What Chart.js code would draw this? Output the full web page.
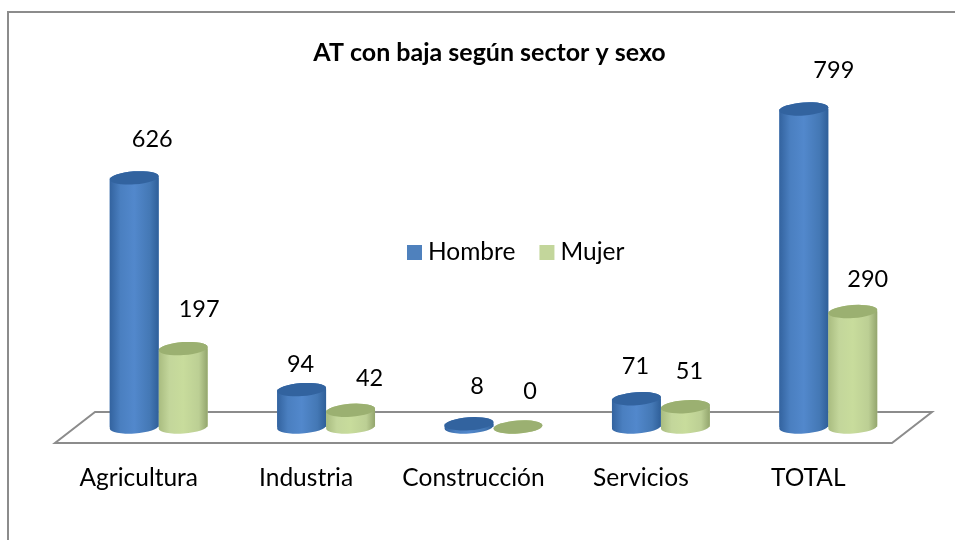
<!DOCTYPE html>
<html>
<head>
<meta charset="utf-8">
<title>AT con baja según sector y sexo</title>
<script src="https://cdn.jsdelivr.net/npm/chart.js@4"></script>
<style>
    html, body { margin: 0; padding: 0; background: #fff; }
    #wrap { position: relative; width: 955px; height: 540px; overflow: hidden; }
    #frame { position: absolute; left: 7px; top: 11px; right: 0; bottom: 0; border-left: 2px solid #8c8c8c; border-top: 2px solid #8c8c8c; }
    canvas { position: absolute; left: 0; top: 0; }
</style>
</head>
<body>
<div id="wrap">
    <div id="frame"></div>
    <canvas id="chart" width="955" height="540"></canvas>
</div>
<script>
const categories = ['Agricultura', 'Industria', 'Construcción', 'Servicios', 'TOTAL'];
const hombre = [626, 94, 8, 71, 799];
const mujer = [197, 42, 0, 51, 290];

const FONT = 'Lato, Carlito, sans-serif';

// The value labels sit off to the side of the bars, not centred on them
const labelShift = [
    { x: [18, -1, 8, -1, 30], y: [-38, -25, -37, -32, -39] },
    { x: [16, 19, 12, 4, 15], y: [-39, -32, -36, -35, -32] }
];

const cylinderColors = [
    { stops: ['#33639f', '#4a7fc0', '#5288cc', '#4478b5', '#2f5f99'], top: '#32639f' },
    { stops: ['#a9bc80', '#c3d69b', '#c8dc9c', '#bccf94', '#93a56d'], top: '#9bb071' }
];

// Title is centred a little left of the plot
const titleShiftPlugin = {
    id: 'titleShift',
    afterLayout(chart) {
        chart.titleBlock.left -= 8;
    }
};

const floorPlugin = {
    id: 'floor',
    beforeDatasetsDraw(chart) {
        const { ctx, chartArea: a } = chart;
        ctx.save();
        ctx.strokeStyle = '#8c8c8c';
        ctx.lineWidth = 2;
        ctx.lineJoin = 'miter';
        ctx.beginPath();
        ctx.moveTo(a.left - 20, a.bottom + 16);
        ctx.lineTo(a.right - 20, a.bottom + 16);
        ctx.lineTo(a.right + 20, a.bottom - 15);
        ctx.lineTo(a.left + 20, a.bottom - 15);
        ctx.closePath();
        ctx.stroke();
        ctx.restore();
    }
};

const cylinderPlugin = {
    id: 'cylinder',
    afterDatasetsDraw(chart) {
        const { ctx } = chart;
        const tilt = -4 * Math.PI / 180;
        chart.data.datasets.forEach((ds, d) => {
            const c = cylinderColors[d];
            chart.getDatasetMeta(d).data.forEach((bar) => {
                const rx = bar.width / 2;
                const ry = 6.5;
                const left = bar.x - rx;
                ctx.save();
                const grad = ctx.createLinearGradient(left, 0, left + bar.width, 0);
                grad.addColorStop(0, c.stops[0]);
                grad.addColorStop(0.22, c.stops[1]);
                grad.addColorStop(0.5, c.stops[2]);
                grad.addColorStop(0.82, c.stops[3]);
                grad.addColorStop(1, c.stops[4]);
                ctx.fillStyle = grad;
                ctx.beginPath();
                ctx.ellipse(bar.x, bar.base, rx, ry, tilt, 0, Math.PI);
                ctx.ellipse(bar.x, bar.y, rx, ry, tilt, Math.PI, 2 * Math.PI);
                ctx.closePath();
                ctx.fill();
                ctx.fillStyle = c.top;
                ctx.beginPath();
                ctx.ellipse(bar.x, bar.y, rx, ry, tilt, 0, 2 * Math.PI);
                ctx.fill();
                ctx.restore();
            });
        });
    }
};

const valueLabelPlugin = {
    id: 'valueLabel',
    afterDraw(chart) {
        const { ctx } = chart;
        ctx.save();
        ctx.font = '23.5px ' + FONT;
        ctx.fillStyle = '#000';
        ctx.textAlign = 'center';
        ctx.textBaseline = 'middle';
        chart.data.datasets.forEach((ds, d) => {
            chart.getDatasetMeta(d).data.forEach((bar, i) => {
                ctx.fillText(ds.data[i], bar.x + labelShift[d].x[i], bar.y + labelShift[d].y[i]);
            });
        });
        ctx.restore();
    }
};

// Legend floats in the middle of the plot, with a tighter swatch gap than the built-in one
const middleLegendPlugin = {
    id: 'middleLegend',
    afterDraw(chart) {
        const { ctx } = chart;
        let x = 407;
        ctx.save();
        ctx.font = '24.5px ' + FONT;
        ctx.textBaseline = 'middle';
        chart.data.datasets.forEach((ds) => {
            ctx.fillStyle = ds.backgroundColor;
            ctx.fillRect(x, 245, 15, 15);
            ctx.fillStyle = '#000';
            ctx.fillText(ds.label, x + 21, 252);
            x += 21 + ctx.measureText(ds.label).width + 24;
        });
        ctx.restore();
    }
};

new Chart(document.getElementById('chart').getContext('2d'), {
    type: 'bar',
    data: {
        labels: categories,
        datasets: [
            { label: 'Hombre', data: hombre, backgroundColor: '#4f81bd', borderWidth: 0 },
            { label: 'Mujer', data: mujer, backgroundColor: '#c3d69b', borderWidth: 0 }
        ]
    },
    options: {
        responsive: false,
        animation: false,
        categoryPercentage: 0.585,
        barPercentage: 1,
        layout: { padding: { left: 75, right: 43, top: 0, bottom: 0 } },
        plugins: {
            legend: { display: false },
            tooltip: { enabled: false },
            title: {
                display: true,
                text: 'AT con baja según sector y sexo',
                color: '#000',
                font: { family: FONT, size: 25, weight: 'bold' },
                padding: { top: 38, bottom: 0 }
            }
        },
        scales: {
            x: {
                grid: { display: false, drawTicks: false },
                border: { display: false },
                ticks: { color: '#000', padding: 36, labelOffset: -20, font: { family: FONT, size: 24.5 }, maxRotation: 0 },
                afterFit(scale) { scale.height = 113; }
            },
            y: { display: false, min: 0, max: 902 }
        }
    },
    plugins: [titleShiftPlugin, floorPlugin, cylinderPlugin, valueLabelPlugin, middleLegendPlugin]
});
</script>
</body>
</html>
